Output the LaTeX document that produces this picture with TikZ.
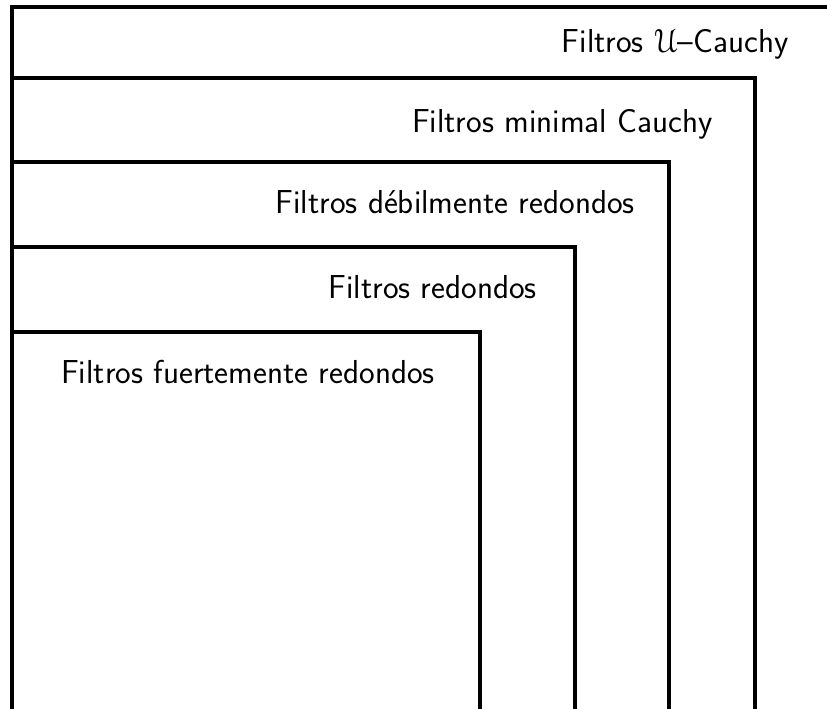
\documentclass[tikz,border=0pt]{standalone}
\usepackage[mathcal]{eucal}

\begin{document}
\begin{tikzpicture}[%
        x = 0.75pt,
        y = -0.75pt,
        borde/.style = {line width = 3pt},
        rotulo/.style = {font = \sffamily\Huge, inner sep = 0pt, anchor = base east}
    ]

        \useasboundingbox (0, 0) rectangle (827, 708);

        % The nested boxes, from the outside inwards.
        \draw[borde] (12, 720) |- (840, 7);
        \draw[borde] (12, 78) -| (755, 720);
        \draw[borde] (12, 162) -| (669, 720);
        \draw[borde] (12, 247) -| (575, 720);
        \draw[borde] (12, 332) -| (480, 720);

        \node[rotulo] (cauchyU) at (789, 52) {Filtros $\mathcal{U}$--Cauchy};
        \node[rotulo] (minimal) at (713, 132) {Filtros minimal Cauchy};
        \node[rotulo] (debil) at (635, 213) {Filtros débilmente redondos};
        \node[rotulo] (redondo) at (537, 298) {Filtros redondos};
        \node[rotulo] (fuerte) at (435, 383) {Filtros fuertemente redondos};
    \end{tikzpicture}
\end{document}
